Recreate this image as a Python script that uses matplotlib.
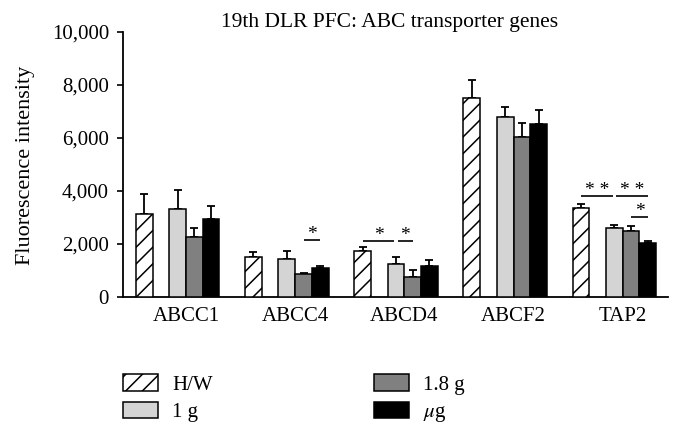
import matplotlib
matplotlib.use("Agg")
import matplotlib.pyplot as plt
import numpy as np

plt.rcParams['font.family'] = ['Liberation Serif', 'DejaVu Serif']
plt.rcParams['mathtext.fontset'] = 'stix'
plt.rcParams['hatch.linewidth'] = 1.1

genes = ["ABCC1", "ABCC4", "ABCD4", "ABCF2", "TAP2"]
groups = ["H/W", "1 g", "1.8 g", r"$\mu$g"]

# mean values
hw = [3130, 1500, 1740, 7520, 3370]
g1 = [3310, 1450, 1260, 6780, 2620]
g18 = [2260, 870, 770, 6030, 2480]
mug = [2950, 1090, 1170, 6540, 2050]

# top of error bar
hw_err = [3890, 1710, 1890, 8180, 3510]
g1_err = [4050, 1720, 1500, 7180, 2700]
g18_err = [2590, 890, 1020, 6570, 2690]
mug_err = [3430, 1170, 1410, 7040, 2110]

# significance: gene index, from series, to series, line height, label
sig_gene = [1, 2, 2, 4, 4, 4]
sig_from = [2, 0, 1, 0, 1, 2]
sig_to = [3, 1, 2, 1, 3, 3]
sig_y = [2140, 2110, 2110, 3810, 3810, 3030]
sig_txt = ["*", "*", "*", "* *", "* *", "*"]

means = [hw, g1, g18, mug]
tops = [hw_err, g1_err, g18_err, mug_err]
colors = ["white", "#d4d4d4", "#808080", "black"]
hatches = ["//", None, None, None]

w = 0.153
# slot 1 is left empty after H/W
offs = [(-2.5) * w, (-0.5) * w, 0.5 * w, 1.5 * w]

fig = plt.figure(figsize=(6.82, 4.36), dpi=100)
ax = fig.add_axes([123 / 682, 1 - 297 / 436, 545 / 682, 265 / 436])

x = np.arange(len(genes))
handles = []
for k in range(4):
    m = np.array(means[k])
    e = np.array(tops[k]) - m
    b = ax.bar(x + offs[k], m, width=w, color=colors[k], edgecolor="black",
               linewidth=1.1, hatch=hatches[k], label=groups[k], zorder=3)
    ax.errorbar(x + offs[k], m, yerr=[np.zeros_like(e), e], fmt="none",
                ecolor="black", elinewidth=1.3, capsize=3, capthick=1.3, zorder=2)
    handles.append(b)

for i in range(len(sig_gene)):
    g = sig_gene[i]
    shrink_a = 0.015 if sig_from[i] == 1 else 0.0
    shrink_b = 0.015 if sig_to[i] == 1 else 0.0
    xa = g + offs[sig_from[i]] + shrink_a
    xb = g + offs[sig_to[i]] - shrink_b
    ax.plot([xa, xb], [sig_y[i], sig_y[i]], color="black", lw=1.2,
            solid_capstyle="butt", zorder=4)
    ax.text((xa + xb) / 2, sig_y[i] - 110, sig_txt[i], ha="center",
            va="bottom", fontsize=14)

ax.set_xlim(-0.577, 4.414)
ax.set_ylim(0, 10000)
ax.set_yticks([0, 2000, 4000, 6000, 8000, 10000])
ax.set_yticklabels(["0", "2,000", "4,000", "6,000", "8,000", "10,000"])
ax.set_xticks(x)
ax.set_xticklabels(genes)
ax.tick_params(axis="x", length=0, pad=7, labelsize=15)
ax.tick_params(axis="y", length=4, width=1.2, pad=6, labelsize=15, direction="out")
ax.spines["top"].set_visible(False)
ax.spines["right"].set_visible(False)
ax.spines["left"].set_linewidth(1.3)
ax.spines["bottom"].set_linewidth(1.3)

fig.text(390 / 682, 1 - 23 / 436, "19th DLR PFC: ABC transporter genes",
         ha="center", va="center", fontsize=15.5)
fig.text(26 / 682, 1 - 165 / 436, "Fluorescence intensity", rotation=90,
         ha="center", va="center", fontsize=16)

leg_kw = dict(frameon=False, fontsize=15, handlelength=1.7, handleheight=0.85,
              handletextpad=0.65, labelspacing=0.35, borderpad=0, borderaxespad=0,
              loc="upper left")
fig.legend(handles[:2], groups[:2], bbox_to_anchor=(123 / 682, 1 - 374 / 436), **leg_kw)
fig.legend(handles[2:], groups[2:], bbox_to_anchor=(374 / 682, 1 - 374 / 436), **leg_kw)

fig.savefig("out.png", dpi=100)
